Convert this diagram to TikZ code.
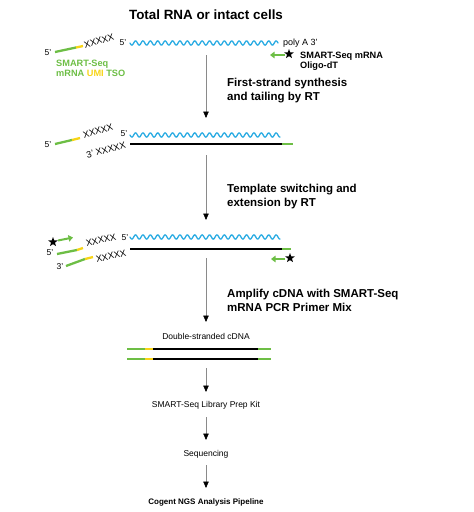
\documentclass[tikz,border=0pt]{standalone}
\usepackage{fontspec}
\setmainfont{Liberation Sans}
\usetikzlibrary{arrows.meta,shapes.geometric}
\definecolor{ngreen}{HTML}{6DBE45}
\definecolor{nyellow}{HTML}{F7D417}
\definecolor{ncyan}{HTML}{29ABE2}
\definecolor{ngray}{HTML}{8A8A8A}
\begin{document}
\begin{tikzpicture}[x=1pt,y=-1pt,
  flow/.style={draw=ngray, line width=0.6pt, -{Triangle[length=6.5pt,width=5.5pt,color=black]}},
  strandG/.style={ngreen, line width=2.3pt},
  strandY/.style={nyellow, line width=2.3pt},
  cdna/.style={black, line width=1.4pt},
  rna/.style={ncyan, line width=1.3pt, line cap=round},
  small/.style={inner sep=0, font=\fontsize{8.5}{10}\selectfont},
  xx/.style={inner sep=0, font=\fontsize{9.2}{11}\selectfont},
  steplbl/.style={inner sep=0, anchor=base west, font=\bfseries\fontsize{11.5}{14}\selectfont},
  boldlbl/.style={inner sep=0, anchor=base west, font=\bfseries\fontsize{9.2}{11}\selectfont},
  starn/.style={star, star points=5, star point ratio=2.4, fill=black, draw=none, inner sep=0, minimum size=10pt},
  primer/.style={ngreen, line width=2pt, -{Triangle[length=4.5pt,width=6.5pt]}}
]
\useasboundingbox (0,0) rectangle (474,512);

% Title
\node[inner sep=0, anchor=base, font=\bfseries\fontsize{13.4}{16}\selectfont] (title) at (206,19) {Total RNA or intact cells};

% ---------- Row 1 ----------
\node[small] (r1p5) at (48,53) {5'};
\coordinate (t1a) at (55,52); \coordinate (t1b) at (76,47.5); \coordinate (t1c) at (83,46);
\draw[strandG] (t1a) -- (t1b);
\draw[strandY] (t1b) -- (t1c);
\node[xx, rotate=16] (r1x) at (99,41) {XXXXX};
\node[small] (r1r5) at (123,43) {5'};
\draw[rna, domain=0:148, samples=300] plot ({130+\x}, {43 + 2.1*sin(\x*48.65)});
\node[small, anchor=base west, font=\fontsize{9}{10}\selectfont] (polyA) at (283,45.5) {poly A 3'};
\node[starn] (r1star) at (289,54) {};
\coordinate (r1ps) at (285,55); \coordinate (r1pe) at (270,55);
\draw[primer] (r1ps) -- (r1pe);
\node[boldlbl, text=ngreen] (tso1) at (56,66) {SMART-Seq};
\node[boldlbl, text=ngreen] (tso2) at (56,76) {mRNA \textcolor{nyellow}{UMI} TSO};
\node[boldlbl] (odt1) at (300,58) {SMART-Seq mRNA};
\node[boldlbl] (odt2) at (300,68) {Oligo-dT};

\coordinate (a1s) at (206,55); \coordinate (a1e) at (206,118);
\draw[flow] (a1s) -- (a1e);
\node[steplbl] (s1a) at (227,86) {First-strand synthesis};
\node[steplbl] (s1b) at (227,100) {and tailing by RT};

% ---------- Row 2 ----------
\node[small] (r2p5) at (48,145) {5'};
\coordinate (t2a) at (55,144); \coordinate (t2b) at (72,140); \coordinate (t2c) at (80,138);
\draw[strandG] (t2a) -- (t2b);
\draw[strandY] (t2b) -- (t2c);
\node[xx, rotate=16] (r2x) at (98,131) {XXXXX};
\node[small] (r2r5) at (124,134) {5'};
\draw[rna, domain=0:150, samples=300] plot ({130+\x}, {135 + 2.1*sin(\x*48.65)});
\node[xx, rotate=15] (r2x3) at (106,150) {3' XXXXX};
\coordinate (c2a) at (130,144); \coordinate (c2b) at (282,144); \coordinate (c2c) at (293,144);
\draw[cdna] (c2a) -- (c2b);
\draw[strandG] (c2b) -- (c2c);

\coordinate (a2s) at (206,155); \coordinate (a2e) at (206,220);
\draw[flow] (a2s) -- (a2e);
\node[steplbl] (s2a) at (227,192) {Template switching and};
\node[steplbl] (s2b) at (227,206) {extension by RT};

% ---------- Row 3 ----------
\node[starn] (r3star) at (53,242) {};
\coordinate (r3ps) at (58,240.5); \coordinate (r3pe) at (73,237.5);
\draw[primer] (r3ps) -- (r3pe);
\node[small] (r3p5) at (50,253) {5'};
\coordinate (t3a) at (57,254); \coordinate (t3b) at (77,250); \coordinate (t3c) at (83,248);
\draw[strandG] (t3a) -- (t3b);
\draw[strandY] (t3b) -- (t3c);
\node[small] (r3p3) at (60,267) {3'};
\coordinate (t4a) at (66,266); \coordinate (t4b) at (85,259); \coordinate (t4c) at (93,257);
\draw[strandG] (t4a) -- (t4b);
\draw[strandY] (t4b) -- (t4c);
\node[xx, rotate=13] (r3x) at (101,240) {XXXXX};
\node[small] (r3r5) at (125,238) {5'};
\node[xx, rotate=13] (r3x2) at (111,256) {XXXXX};
\draw[rna, domain=0:150, samples=300] plot ({130+\x}, {237 + 2.1*sin(\x*48.65)});
\coordinate (c3a) at (130,249); \coordinate (c3b) at (282,249); \coordinate (c3c) at (291,249);
\draw[cdna] (c3a) -- (c3b);
\draw[strandG] (c3b) -- (c3c);
\node[starn] (r3star2) at (290,258) {};
\coordinate (r3qs) at (285,259); \coordinate (r3qe) at (271,259);
\draw[primer] (r3qs) -- (r3qe);

\coordinate (a3s) at (206,258); \coordinate (a3e) at (206,322);
\draw[flow] (a3s) -- (a3e);
\node[steplbl] (s3a) at (227,297) {Amplify cDNA with SMART-Seq};
\node[steplbl] (s3b) at (227,311) {mRNA PCR Primer Mix};

% ---------- Bottom ----------
\node[small, anchor=base] (ds) at (206,339) {Double-stranded cDNA};
\foreach \yy/\nm in {349/u, 359/l} {
  \coordinate (d\nm a) at (127,\yy); \coordinate (d\nm b) at (145,\yy);
  \coordinate (d\nm c) at (153,\yy); \coordinate (d\nm d) at (258,\yy);
  \coordinate (d\nm e) at (271,\yy);
  \draw[strandG] (d\nm a) -- (d\nm b);
  \draw[strandY] (d\nm b) -- (d\nm c);
  \draw[cdna] (d\nm c) -- (d\nm d);
  \draw[strandG] (d\nm d) -- (d\nm e);
}
\coordinate (a4s) at (206,368); \coordinate (a4e) at (206,392);
\draw[flow] (a4s) -- (a4e);
\node[small, anchor=base] (lib) at (206,407) {SMART-Seq Library Prep Kit};
\coordinate (a5s) at (206,417); \coordinate (a5e) at (206,440);
\draw[flow] (a5s) -- (a5e);
\node[small, anchor=base] (seq) at (206,456) {Sequencing};
\coordinate (a6s) at (206,465); \coordinate (a6e) at (206,488);
\draw[flow] (a6s) -- (a6e);
\node[inner sep=0, anchor=base, font=\bfseries\fontsize{8}{10}\selectfont] (cog) at (206,504) {Cogent NGS Analysis Pipeline};
\end{tikzpicture}
\end{document}
